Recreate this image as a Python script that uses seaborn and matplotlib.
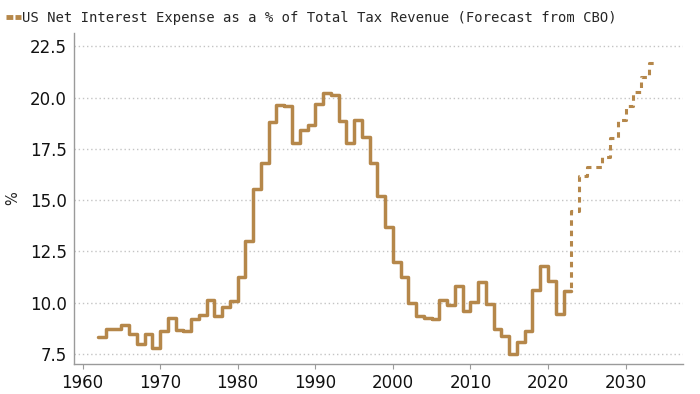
import pandas as pd
import matplotlib.pyplot as plt
import seaborn as sns
from matplotlib.lines import Line2D

# Net interest as % of total tax revenue (annual)
hist_years = list(range(1962, 2023))
hist_pct = [8.3, 8.7, 8.7, 8.9, 8.45, 8.0, 8.45, 7.8, 8.6, 9.25,
            8.65, 8.6, 9.2, 9.4, 10.15, 9.35, 9.8, 10.1, 11.25, 13.0,
            15.55, 16.8, 18.8, 19.65, 19.6, 17.8, 18.4, 18.65, 19.7, 20.25,
            20.15, 18.85, 17.8, 18.9, 18.1, 16.8, 15.2, 13.7, 12.0, 11.25,
            10.0, 9.35, 9.25, 9.2, 10.15, 9.9, 10.8, 9.6, 10.05, 11.0,
            9.95, 8.7, 8.35, 7.5, 8.1, 8.6, 10.6, 11.8, 11.05, 9.45,
            10.55]

# CBO forecast
fcst_years = list(range(2023, 2034))
fcst_pct = [14.45, 16.2, 16.6, 16.6, 17.1, 18.05, 18.9, 19.6, 20.3, 21.0, 21.7]

title = "US Net Interest Expense as a % of Total Tax Revenue (Forecast from CBO)"
color = '#b5874a'

hist = pd.DataFrame({'year': hist_years, 'pct': hist_pct})
fcst = pd.DataFrame({'year': fcst_years, 'pct': fcst_pct})
# step lines need an end point for the last year, and the forecast joins the last actual
hist_plot = pd.concat([hist, pd.DataFrame({'year': [hist_years[-1] + 1], 'pct': [hist_pct[-1]]})])
fcst_plot = pd.concat([hist.tail(1), fcst,
                       pd.DataFrame({'year': [fcst_years[-1] + 1], 'pct': [fcst_pct[-1]]})])

sns.set_theme(style='white')
plt.rcParams['font.family'] = ['Liberation Sans Narrow', 'DejaVu Sans']

fig = plt.figure(figsize=(7, 3.94), dpi=100)
ax = fig.add_axes([0.1057, 0.076, 0.87, 0.84])

sns.lineplot(data=fcst_plot, x='year', y='pct', ax=ax, color=color, lw=2.2,
             drawstyle='steps-post', linestyle=(0, (1.8, 1.6)))
sns.lineplot(data=hist_plot, x='year', y='pct', ax=ax, color=color, lw=2.5,
             drawstyle='steps-post')

ax.set_xlim(1958.9, 2037.4)
ax.set_ylim(7.0, 23.15)
ax.set_xticks(range(1960, 2031, 10))
ax.set_yticks([7.5, 10, 12.5, 15, 17.5, 20, 22.5])
ax.set_yticklabels(['7.5', '10.0', '12.5', '15.0', '17.5', '20.0', '22.5'])
ax.yaxis.grid(True, linestyle=(0, (1, 2)), color='#c4c4c4', lw=1)
ax.xaxis.grid(False)

for side in ['top', 'right']:
    ax.spines[side].set_visible(False)
for side in ['left', 'bottom']:
    ax.spines[side].set_color('#9a9a9a')
    ax.spines[side].set_linewidth(1)

ax.tick_params(axis='x', length=3.5, width=0.8, color='#9a9a9a', pad=4,
               labelsize=12, labelcolor='#111111', bottom=True)
ax.tick_params(axis='y', length=0, pad=5, labelsize=12, labelcolor='#111111')

ax.set_xlabel('')
ax.set_ylabel('%', fontsize=10.5, color='#222222', family=['DejaVu Sans'])
ax.yaxis.set_label_coords(-0.088, 0.5)

# title drawn as a legend entry with the dashed marker
handle = Line2D([], [], color=color, lw=3.5, linestyle=(0, (1.4, 0.45)))
fig.legend([handle], [title], loc='upper left', bbox_to_anchor=(-0.008, 1.0),
           frameon=False, handlelength=1.1, handletextpad=0.1, borderpad=0.3,
           prop={'family': ['DejaVu Sans Mono'], 'size': 10})

fig.savefig('out.png', dpi=100)
